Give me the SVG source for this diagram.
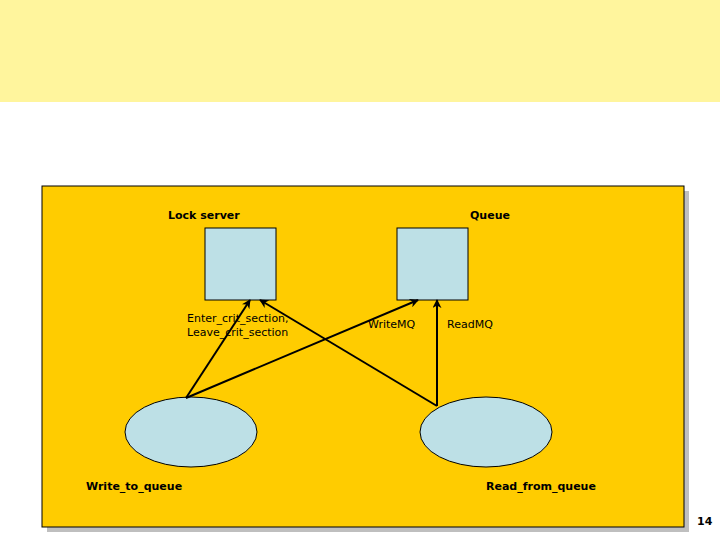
<svg xmlns="http://www.w3.org/2000/svg" width="720" height="540" viewBox="0 0 720 540">
<defs>
<marker id="ah" viewBox="0 0 10 10" refX="9" refY="5" markerWidth="9" markerHeight="9" orient="auto-start-reverse" markerUnits="userSpaceOnUse"><path d="M0,0 L10,5 L0,10 L3,5 z" fill="#000"/></marker>
<style>
.t{font-family:"DejaVu Sans",Verdana,sans-serif;font-size:11px;fill:#000}
.b{font-family:"DejaVu Sans",Verdana,sans-serif;font-size:11px;font-weight:bold;fill:#000}
.n{fill:#BDE0E6;stroke:#000;stroke-width:1}
.c{stroke:#000;stroke-width:2;fill:none;marker-end:url(#ah)}
</style>
</defs>
<rect width="720" height="540" fill="#fff"/>
<rect width="720" height="102" fill="#FFF59D"/>
<rect x="47" y="191" width="642" height="341" fill="#BFBFBF"/>
<rect x="42" y="186" width="642" height="341" fill="#FFCC00" stroke="#000" stroke-width="1"/>
<g id="lock"><rect class="n" x="205" y="228" width="71" height="72"/><text class="b" x="168" y="219">Lock server</text></g>
<g id="queue"><rect class="n" x="397" y="228" width="71" height="72"/><text class="b" x="470" y="219">Queue</text></g>
<g id="write"><ellipse class="n" cx="191" cy="432" rx="66" ry="35"/><text class="b" x="86" y="490">Write_to_queue</text></g>
<g id="read"><ellipse class="n" cx="486" cy="432" rx="66" ry="35"/><text class="b" x="486" y="490">Read_from_queue</text></g>
<g id="connectors">
<line class="c" x1="186" y1="398" x2="250" y2="300"/>
<line class="c" x1="186" y1="398" x2="418" y2="300"/>
<line class="c" x1="437" y1="406" x2="260" y2="300"/>
<line class="c" x1="437" y1="406" x2="437" y2="300"/>
<text class="t" x="187" y="322">Enter_crit_section,</text>
<text class="t" x="187" y="336">Leave_crit_section</text>
<text class="t" x="368" y="328">WriteMQ</text>
<text class="t" x="447" y="328">ReadMQ</text>
</g>
<text class="b" x="697" y="525">14</text>
</svg>
